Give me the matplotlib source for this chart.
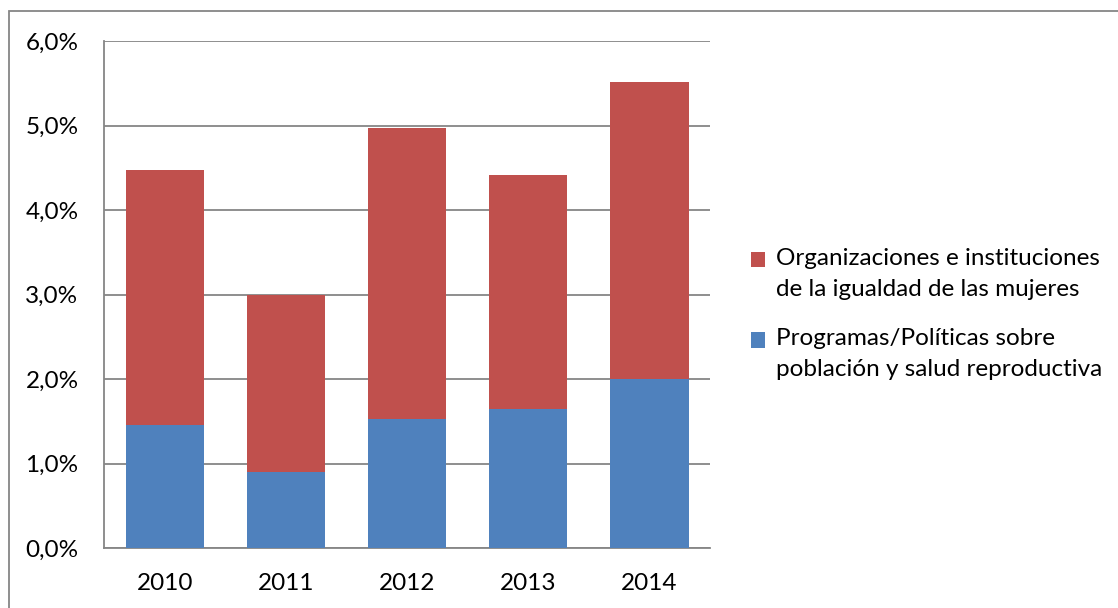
import matplotlib
matplotlib.use("Agg")
import matplotlib.pyplot as plt
from matplotlib.patches import Rectangle, Patch
from matplotlib.legend_handler import HandlerPatch
from matplotlib.ticker import FuncFormatter, MultipleLocator

years = ["2010", "2011", "2012", "2013", "2014"]
programas = [1.46, 0.90, 1.53, 1.65, 2.00]
organizaciones = [3.01, 2.10, 3.44, 2.76, 3.52]
label_org = "Organizaciones e instituciones\nde la igualdad de las mujeres"
label_prog = "Programas/Políticas sobre\npoblación y salud reproductiva"

BLUE = "#4F81BD"
RED = "#C0504D"
GRID = "#868686"
FONT = "Lato"
FS = 17.5
LINESP = 1.57

plt.rcParams["font.family"] = [FONT, "DejaVu Sans"]

W, H = 1118, 608
fig = plt.figure(figsize=(W / 100, H / 100), dpi=100)
fig.patch.set_facecolor("white")

left, right, top, bottom = 104.2, 710.0, 41.0, 548.3
ax = fig.add_axes([left / W, 1 - bottom / H, (right - left) / W, (bottom - top) / H])

x = list(range(len(years)))
ax.bar(x, programas, width=0.646, color=BLUE, zorder=3, label=label_prog)
ax.bar(x, organizaciones, width=0.646, bottom=programas, color=RED, zorder=3, label=label_org)

ax.set_xlim(-0.5, len(years) - 0.5)
ax.set_ylim(0, 6)
ax.yaxis.set_major_locator(MultipleLocator(1))
ax.yaxis.set_major_formatter(FuncFormatter(lambda v, p: f"{v:.1f}%".replace(".", ",")))
ax.set_xticks(x)
ax.set_xticklabels(years)
ax.grid(axis="y", color=GRID, linewidth=1.3, zorder=0)
for s in ["top", "right"]:
    ax.spines[s].set_visible(False)
for s in ["left", "bottom"]:
    ax.spines[s].set_color(GRID)
    ax.spines[s].set_linewidth(1.3)
ax.tick_params(axis="y", length=0, pad=18.5, labelsize=FS, labelcolor="black")
ax.tick_params(axis="x", length=0, pad=18, labelsize=FS, labelcolor="black")

# outer chart border
fig.add_artist(Rectangle((9 / W, -0.1), 1.2, 1.1 - 11 / H, transform=fig.transFigure,
                         fill=False, edgecolor=GRID, linewidth=1.3))


class TopSquare(HandlerPatch):
    """Square legend key aligned with the first line of a two-line label."""
    def create_artists(self, legend, orig_handle, xdescent, ydescent, width, height,
                       fontsize, trans):
        shift = 10.0  # points, about half a line of text
        p = Rectangle((-xdescent, -ydescent + shift), width, height,
                      facecolor=orig_handle.get_facecolor(), edgecolor="none",
                      transform=trans)
        return [p]


handles = [Patch(facecolor=RED, label=label_org), Patch(facecolor=BLUE, label=label_prog)]
leg = fig.legend(handles=handles, loc="upper left", bbox_to_anchor=(751 / W, 1 - 248 / H),
                 frameon=False, fontsize=FS, handlelength=0.58, handleheight=0.58,
                 handletextpad=0.45, labelspacing=1.17, borderaxespad=0, borderpad=0,
                 handler_map={Patch: TopSquare()})
for t in leg.get_texts():
    t.set_linespacing(LINESP)

fig.savefig("out.png", dpi=100, facecolor="white")
